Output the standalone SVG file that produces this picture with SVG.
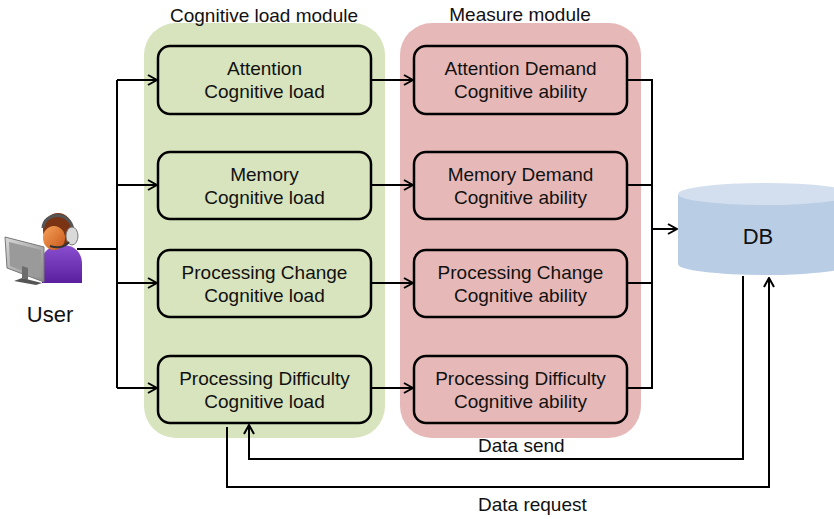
<svg xmlns="http://www.w3.org/2000/svg" width="834" height="519" viewBox="0 0 834 519">
  <defs>
    <marker id="arrow" viewBox="0 0 12 12" refX="11" refY="6" markerWidth="12" markerHeight="12" markerUnits="userSpaceOnUse" orient="auto">
      <path d="M2,1 L11,6 L2,11" fill="none" stroke="#000" stroke-width="2"/>
    </marker>
    <linearGradient id="face" x1="0" y1="0" x2="1" y2="1">
      <stop offset="0" stop-color="#f6a25a"/>
      <stop offset="1" stop-color="#c8561a"/>
    </linearGradient>
    <linearGradient id="body" x1="0" y1="0" x2="0" y2="1">
      <stop offset="0" stop-color="#8a4fd0"/>
      <stop offset="1" stop-color="#5a1f9e"/>
    </linearGradient>
    <linearGradient id="screen" x1="0" y1="0" x2="1" y2="1">
      <stop offset="0" stop-color="#d8d8d8"/>
      <stop offset="1" stop-color="#8a8a8a"/>
    </linearGradient>
  </defs>
  <style>
    text { font-family: "Liberation Sans", Arial, sans-serif; fill: #111; }
    .lbl { font-size: 19px; text-anchor: middle; }
    .title { font-size: 19px; text-anchor: middle; }
    .note { font-size: 19px; }
    .box { stroke: #000; stroke-width: 2.5; }
    .green { fill: #d7e4bd; }
    .red { fill: #e6b9b8; }
    .wire { fill: none; stroke: #000; stroke-width: 2; }
  </style>

  <!-- module backgrounds -->
  <g id="cognitive-load-module">
    <rect x="144" y="23" width="241" height="415" rx="32" class="green"/>
    <text x="264" y="22" class="title">Cognitive load module</text>
  </g>
  <g id="measure-module">
    <rect x="400" y="23" width="241" height="415" rx="32" class="red"/>
    <text x="520" y="21" class="title">Measure module</text>
  </g>

  <!-- connectors -->
  <g id="connectors">
    <path class="wire" d="M77,249 H117"/>
    <path class="wire" d="M117,80 V388"/>
    <path class="wire" d="M117,80 H157" marker-end="url(#arrow)"/>
    <path class="wire" d="M117,185 H157" marker-end="url(#arrow)"/>
    <path class="wire" d="M117,283 H157" marker-end="url(#arrow)"/>
    <path class="wire" d="M117,388 H157" marker-end="url(#arrow)"/>

    <path class="wire" d="M371,80 H413" marker-end="url(#arrow)"/>
    <path class="wire" d="M371,185 H413" marker-end="url(#arrow)"/>
    <path class="wire" d="M371,283 H413" marker-end="url(#arrow)"/>
    <path class="wire" d="M371,388 H413" marker-end="url(#arrow)"/>

    <path class="wire" d="M627,80 H652 V388 H627"/>
    <path class="wire" d="M627,185 H652"/>
    <path class="wire" d="M627,283 H652"/>
    <path class="wire" d="M652,229 H677" marker-end="url(#arrow)"/>

    <path class="wire" d="M743,276 V459 H249 V425" marker-end="url(#arrow)"/>
    <path class="wire" d="M227,427 V487 H769 V278" marker-end="url(#arrow)"/>
    <text x="478" y="452" class="note">Data send</text>
    <text x="478" y="511" class="note">Data request</text>
  </g>

  <!-- cognitive load nodes -->
  <g id="attention-load">
    <rect x="158" y="46" width="213" height="68" rx="12" class="box green"/>
    <text x="264.5" y="75" class="lbl">Attention</text>
    <text x="264.5" y="98" class="lbl">Cognitive load</text>
  </g>
  <g id="memory-load">
    <rect x="158" y="152" width="213" height="67" rx="12" class="box green"/>
    <text x="264.5" y="181" class="lbl">Memory</text>
    <text x="264.5" y="204" class="lbl">Cognitive load</text>
  </g>
  <g id="processing-change-load">
    <rect x="158" y="250" width="213" height="67" rx="12" class="box green"/>
    <text x="264.5" y="279" class="lbl">Processing Change</text>
    <text x="264.5" y="302" class="lbl">Cognitive load</text>
  </g>
  <g id="processing-difficulty-load">
    <rect x="158" y="356" width="213" height="67" rx="12" class="box green"/>
    <text x="264.5" y="385" class="lbl">Processing Difficulty</text>
    <text x="264.5" y="408" class="lbl">Cognitive load</text>
  </g>

  <!-- measure nodes -->
  <g id="attention-ability">
    <rect x="414" y="46" width="213" height="68" rx="12" class="box red"/>
    <text x="520.5" y="75" class="lbl">Attention Demand</text>
    <text x="520.5" y="98" class="lbl">Cognitive ability</text>
  </g>
  <g id="memory-ability">
    <rect x="414" y="152" width="213" height="67" rx="12" class="box red"/>
    <text x="520.5" y="181" class="lbl">Memory Demand</text>
    <text x="520.5" y="204" class="lbl">Cognitive ability</text>
  </g>
  <g id="processing-change-ability">
    <rect x="414" y="250" width="213" height="67" rx="12" class="box red"/>
    <text x="520.5" y="279" class="lbl">Processing Change</text>
    <text x="520.5" y="302" class="lbl">Cognitive ability</text>
  </g>
  <g id="processing-difficulty-ability">
    <rect x="414" y="356" width="213" height="67" rx="12" class="box red"/>
    <text x="520.5" y="385" class="lbl">Processing Difficulty</text>
    <text x="520.5" y="408" class="lbl">Cognitive ability</text>
  </g>

  <!-- database cylinder -->
  <g id="db">
    <path d="M678,194 V264 A87,11 0 0 0 852,264 V194 Z" fill="#b9cde5"/>
    <ellipse cx="765" cy="194" rx="87" ry="11" fill="#d3dfee"/>
    <text x="758" y="244" style="font-size:22px;text-anchor:middle">DB</text>
  </g>

  <!-- user with headset at a monitor -->
  <g id="user">
    <!-- body -->
    <path d="M42,283 V262 C42,250 52,245 62,245 C74,245 82,252 82,264 V283 Z" fill="url(#body)"/>
    <!-- hair -->
    <ellipse cx="58" cy="230" rx="15" ry="17" fill="#7a3414"/>
    <!-- face -->
    <ellipse cx="54" cy="238" rx="11" ry="12" fill="url(#face)"/>
    <!-- headset band and earpiece -->
    <path d="M43,228 C44,212 70,210 73,230" fill="none" stroke="#555" stroke-width="3"/>
    <ellipse cx="72" cy="236" rx="6" ry="9" fill="#d9d9d9" stroke="#777" stroke-width="1"/>
    <path d="M69,242 C64,248 56,248 50,246" fill="none" stroke="#333" stroke-width="2"/>
    <!-- monitor -->
    <path d="M5,237 L44,247 L44,282 L7,268 Z" fill="url(#screen)" stroke="#777" stroke-width="1"/>
    <path d="M9,242 L41,250 L41,278 L10,266 Z" fill="#9a9a9a"/>
    <path d="M22,266 L28,268 L28,280 L22,278 Z" fill="#6d6d6d"/>
    <path d="M14,281 L36,285 L42,283 L22,278 Z" fill="#555"/>
    <text x="50" y="322" style="font-size:22px;text-anchor:middle">User</text>
  </g>
</svg>
